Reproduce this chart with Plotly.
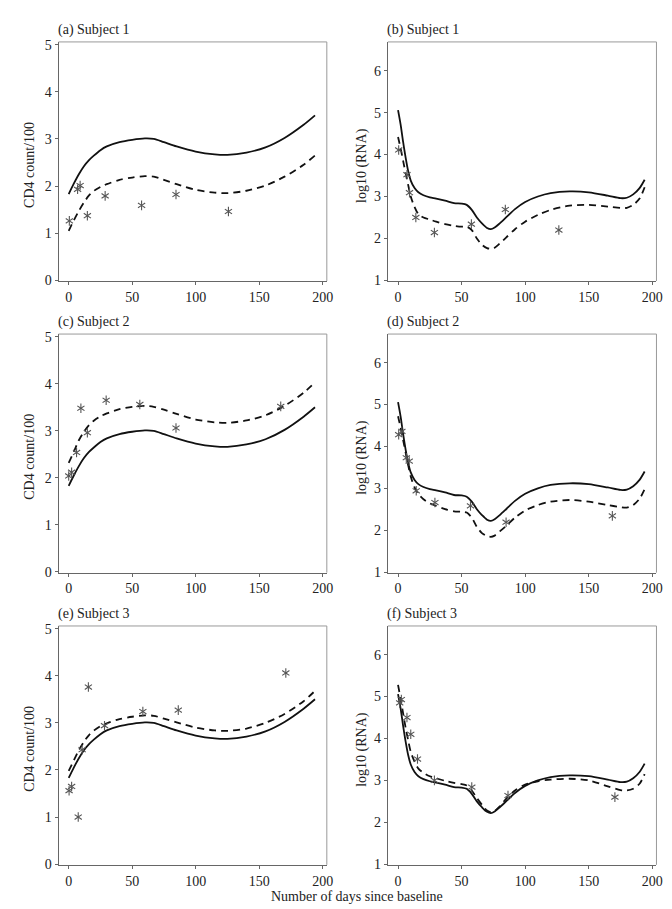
import plotly.graph_objects as go
from plotly.subplots import make_subplots

# ---------------- data ----------------
CD4_DAYS = [0, 4, 8, 12, 16, 20, 25, 30, 40, 50, 60, 67, 75, 85, 100, 115, 125, 140, 155, 170, 185, 194]
CD4_POP = [1.83, 2.05, 2.25, 2.42, 2.55, 2.65, 2.76, 2.84, 2.93, 2.98, 3.01, 3.0, 2.93, 2.84, 2.73, 2.67, 2.66, 2.71, 2.82, 3.02, 3.3, 3.5]
CD4_S1 = [1.05, 1.27, 1.47, 1.65, 1.8, 1.9, 1.98, 2.04, 2.13, 2.18, 2.21, 2.2, 2.13, 2.04, 1.92, 1.86, 1.85, 1.9, 2.01, 2.2, 2.45, 2.65]
CD4_S2 = [2.32, 2.55, 2.8, 2.98, 3.12, 3.22, 3.31, 3.37, 3.46, 3.51, 3.53, 3.51, 3.45, 3.36, 3.24, 3.18, 3.17, 3.22, 3.33, 3.53, 3.81, 4.03]
CD4_S3 = [1.98, 2.2, 2.42, 2.6, 2.74, 2.84, 2.93, 2.99, 3.08, 3.13, 3.16, 3.15, 3.09, 3.01, 2.9, 2.84, 2.83, 2.88, 3.0, 3.19, 3.46, 3.68]

RNA_DAYS = [0, 2, 4, 6, 8, 10, 13, 16, 20, 25, 30, 37, 44, 50, 54, 58, 62, 66, 70, 73, 76, 80, 85, 92, 100, 110, 120, 135, 150, 165, 175, 180, 185, 190, 194]
RNA_POP = [5.06, 4.72, 4.3, 3.92, 3.6, 3.38, 3.2, 3.1, 3.03, 2.98, 2.95, 2.9, 2.84, 2.83, 2.8, 2.68, 2.5, 2.36, 2.25, 2.22, 2.26, 2.36, 2.5, 2.7, 2.87, 3.0, 3.08, 3.12, 3.1, 3.02, 2.96, 2.97, 3.05, 3.2, 3.4]
RNA_S1 = [4.42, 4.15, 3.85, 3.55, 3.27, 3.0, 2.75, 2.58, 2.5, 2.45, 2.4, 2.34, 2.3, 2.28, 2.28, 2.2, 2.0, 1.85, 1.77, 1.75, 1.78, 1.88, 2.02, 2.22, 2.4, 2.56, 2.68, 2.78, 2.8, 2.76, 2.73, 2.73, 2.8, 2.95, 3.22]
RNA_S2 = [4.72, 4.45, 4.15, 3.85, 3.55, 3.28, 3.02, 2.86, 2.74, 2.64, 2.58, 2.5, 2.45, 2.44, 2.42, 2.3, 2.08, 1.93, 1.86, 1.84, 1.87, 1.97, 2.1, 2.3, 2.47, 2.6, 2.68, 2.72, 2.68, 2.6, 2.55, 2.54, 2.6, 2.75, 2.98]
RNA_S3 = [5.28, 4.95, 4.6, 4.25, 3.95, 3.68, 3.45, 3.28, 3.18, 3.1, 3.05, 2.99, 2.94, 2.91, 2.88, 2.76, 2.58, 2.42, 2.28, 2.24, 2.27, 2.38, 2.56, 2.76, 2.9, 2.98, 3.02, 3.04, 3.0, 2.86, 2.77, 2.76, 2.8, 2.92, 3.15]

OBS_A_DAYS = [0.5, 7, 9, 14.7, 28.7, 57.4, 84.5, 125.8]
OBS_A_VALS = [1.26, 1.93, 2.01, 1.37, 1.79, 1.59, 1.82, 1.46]
OBS_B_DAYS = [0.5, 7, 9, 14, 28.6, 57.7, 84.4, 126.5]
OBS_B_VALS = [4.11, 3.52, 3.09, 2.5, 2.14, 2.34, 2.69, 2.2]
OBS_C_DAYS = [0, 2.3, 6.2, 9.6, 14.7, 29.5, 56, 84.5, 167]
OBS_C_VALS = [2.04, 2.12, 2.54, 3.48, 2.96, 3.65, 3.56, 3.06, 3.52]
OBS_D_DAYS = [0.5, 3, 6.5, 8.8, 14.3, 29, 57, 85, 168.6]
OBS_D_VALS = [4.28, 4.36, 3.73, 3.65, 2.94, 2.66, 2.58, 2.19, 2.34]
OBS_E_DAYS = [0.3, 2.3, 7.5, 10.6, 15.5, 28.2, 58.4, 86.3, 171]
OBS_E_VALS = [1.56, 1.65, 1.0, 2.43, 3.76, 2.94, 3.24, 3.27, 4.06]
OBS_F_DAYS = [1.3, 2.6, 7, 10, 15.3, 28.6, 58, 86.5, 170.6]
OBS_F_VALS = [4.85, 4.93, 4.5, 4.1, 3.51, 3.0, 2.84, 2.64, 2.6]

TITLES = ["(a) Subject 1", "(b) Subject 1", "(c) Subject 2", "(d) Subject 2", "(e) Subject 3", "(f) Subject 3"]
X_TICKS = [0, 50, 100, 150, 200]
CD4_TICKS = [0, 1, 2, 3, 4, 5]
RNA_TICKS = [1, 2, 3, 4, 5, 6]

# ---------------- figure ----------------
W, H = 672, 909
FONT = "Liberation Serif, Times New Roman, serif"
FS = 14
fig = make_subplots(rows=3, cols=2)

panels = [
    (1, 1, CD4_DAYS, CD4_POP, CD4_S1, OBS_A_DAYS, OBS_A_VALS),
    (1, 2, RNA_DAYS, RNA_POP, RNA_S1, OBS_B_DAYS, OBS_B_VALS),
    (2, 1, CD4_DAYS, CD4_POP, CD4_S2, OBS_C_DAYS, OBS_C_VALS),
    (2, 2, RNA_DAYS, RNA_POP, RNA_S2, OBS_D_DAYS, OBS_D_VALS),
    (3, 1, CD4_DAYS, CD4_POP, CD4_S3, OBS_E_DAYS, OBS_E_VALS),
    (3, 2, RNA_DAYS, RNA_POP, RNA_S3, OBS_F_DAYS, OBS_F_VALS),
]

for r, c, days, pop, subj, od, ov in panels:
    fig.add_trace(go.Scatter(x=days, y=pop, mode="lines", line=dict(color="#111", width=1.8, shape="spline", smoothing=0.8),
                             showlegend=False, hoverinfo="skip"), row=r, col=c)
    fig.add_trace(go.Scatter(x=days, y=subj, mode="lines", line=dict(color="#111", width=1.8, dash="7px,5px", shape="spline", smoothing=0.8),
                             showlegend=False, hoverinfo="skip"), row=r, col=c)
    for sym in ["y-up-open", "y-down-open"]:
        fig.add_trace(go.Scatter(x=od, y=ov, mode="markers",
                                 marker=dict(symbol=sym, size=6, line=dict(color="#555", width=1.1), color="#555"),
                                 showlegend=False), row=r, col=c)

# domains in pixels
x_dom = {1: (51, 321.7), 2: (383.3, 654.3)}
y_dom = {1: (30.3, 272.3), 2: (326, 567.5), 3: (621.5, 863.3)}

axis_common = dict(showgrid=False, zeroline=False, showline=True, linecolor="#666", linewidth=1,
                   ticks="outside", ticklen=3, tickcolor="#666", tickwidth=1,
                   tickfont=dict(family=FONT, size=FS, color="#222"))

for r in (1, 2, 3):
    for c in (1, 2):
        idx = (r - 1) * 2 + c
        xs = "xaxis" if idx == 1 else f"xaxis{idx}"
        ys = "yaxis" if idx == 1 else f"yaxis{idx}"
        x0, x1 = x_dom[c]
        yt, yb = y_dom[r]
        fig.layout[xs].update(domain=[x0 / W, x1 / W], range=[-8, 203.3], tickvals=X_TICKS, **axis_common)
        if c == 1:
            fig.layout[ys].update(domain=[1 - yb / H, 1 - yt / H], range=[-0.015, 5.057], tickvals=CD4_TICKS, **axis_common)
        else:
            fig.layout[ys].update(domain=[1 - yb / H, 1 - yt / H], range=[0.985, 6.685], tickvals=RNA_TICKS, **axis_common)
        xr = "x" if idx == 1 else f"x{idx}"
        yr = "y" if idx == 1 else f"y{idx}"
        # top and right frame
        fig.add_shape(type="line", xref=f"{xr} domain", yref=f"{yr} domain", x0=0, x1=1, y0=1, y1=1,
                      line=dict(color="#999", width=1))
        fig.add_shape(type="line", xref=f"{xr} domain", yref=f"{yr} domain", x0=1, x1=1, y0=0, y1=1,
                      line=dict(color="#999", width=1))
        # panel title
        fig.add_annotation(text=TITLES[idx - 1], xref="paper", yref="paper",
                           x=(x0 - 3) / W, y=1 - (yt - 12.5) / H, xanchor="left", yanchor="middle",
                           showarrow=False, font=dict(family=FONT, size=FS, color="#222"))
        # y title
        ytitle = "CD4 count/100" if c == 1 else "log10 (RNA)"
        ytx = 21.7 if c == 1 else 357.7
        fig.add_annotation(text=ytitle, xref="paper", yref="paper", textangle=-90,
                           x=ytx / W, y=1 - ((yt + yb) / 2 + 4) / H, xanchor="center", yanchor="middle",
                           showarrow=False, font=dict(family=FONT, size=FS, color="#222"))

fig.add_annotation(text="Number of days since baseline", xref="paper", yref="paper",
                   x=352.5 / W, y=1 - 895 / H, xanchor="center", yanchor="middle",
                   showarrow=False, font=dict(family=FONT, size=FS, color="#222"))

fig.update_layout(width=W, height=H, margin=dict(l=0, r=0, t=0, b=0),
                  paper_bgcolor="white", plot_bgcolor="white", showlegend=False,
                  font=dict(family=FONT, size=FS, color="#222"))

fig.write_html("out.html")
